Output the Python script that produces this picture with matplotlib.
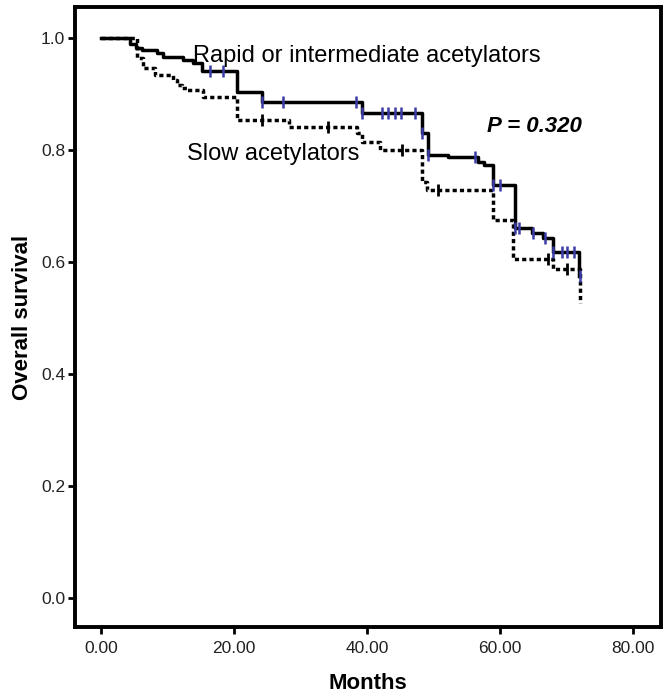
import numpy as np
from matplotlib import pyplot as plt

plt.rcParams['font.family'] = ['Liberation Sans', 'DejaVu Sans']

# Kaplan-Meier step points (months, survival)
rapid_t = [0, 4.4, 5.2, 6.2, 8.4, 9.3, 12.3, 13.8, 15.2, 20.4, 24.2, 39.2,
           48.3, 49.2, 52.2, 56.7, 57.6, 59.0, 62.3, 64.8, 66.5, 68.0, 71.9]
rapid_s = [1.0, 0.989, 0.982, 0.978, 0.973, 0.966, 0.961, 0.955, 0.940, 0.904,
           0.886, 0.866, 0.830, 0.791, 0.787, 0.779, 0.773, 0.737, 0.660, 0.652,
           0.643, 0.618, 0.575]
rapid_cens = [16.4, 18.3, 24.2, 27.4, 38.3, 39.2, 42.3, 43.2, 44.2, 45.1, 47.2,
              48.3, 49.2, 56.2, 59.0, 60.0, 62.3, 62.9, 64.9, 66.8, 68.0, 69.3,
              70.1, 71.1, 72.0]

slow_t = [0, 5.4, 6.3, 8.1, 10.8, 11.5, 12.2, 12.9, 15.3, 20.4, 28.3, 38.5,
          39.2, 42.0, 48.3, 49.0, 59.0, 62.0, 68.0, 72.0]
slow_s = [1.0, 0.964, 0.946, 0.934, 0.925, 0.916, 0.910, 0.907, 0.895, 0.854,
          0.841, 0.830, 0.814, 0.800, 0.743, 0.729, 0.675, 0.605, 0.587, 0.527]
slow_cens = [24.2, 34.1, 45.3, 50.7, 67.2, 70.1]

x_ticks = [0, 20, 40, 60, 80]
y_ticks = [0.0, 0.2, 0.4, 0.6, 0.8, 1.0]


def surv_at(times, surv, when):
    idx = np.searchsorted(times, when, side='right') - 1
    return np.asarray(surv)[idx]


fig = plt.figure(figsize=(6.66, 6.97), dpi=100)
ax = fig.add_axes([0.1126, 0.1004, 0.88, 0.8896])

ax.step(rapid_t, rapid_s, where='post', color='black', lw=2.5)
ax.step(slow_t, slow_s, where='post', color='black', lw=2.5,
        linestyle=(0, (1.2, 0.9)))
ax.plot(rapid_cens, surv_at(rapid_t, rapid_s, rapid_cens), ls='none',
        marker='|', ms=8, mew=1.8, color='#3c3ca8')
ax.plot(slow_cens, surv_at(slow_t, slow_s, slow_cens), ls='none',
        marker='|', ms=8, mew=2, color='black')

ax.text(13.8, 0.957, 'Rapid or intermediate acetylators', fontsize=17,
        va='baseline', ha='left')
ax.text(12.9, 0.782, 'Slow acetylators', fontsize=17, va='baseline', ha='left')
ax.text(58.0, 0.832, 'P = 0.320', fontsize=16, fontweight='bold',
        fontstyle='italic', va='baseline', ha='left')

ax.set_xlim(-3.9, 84.2)
ax.set_ylim(-0.052, 1.055)
ax.set_xticks(x_ticks)
ax.set_xticklabels([f'{v:.2f}' for v in x_ticks])
ax.set_yticks(y_ticks)
ax.set_yticklabels([f'{v:.1f}' for v in y_ticks])
ax.tick_params(labelsize=12.5, labelcolor='#222222', width=2, length=5)
ax.tick_params(axis='x', pad=5)
ax.tick_params(axis='y', pad=2)
for sp in ax.spines.values():
    sp.set_linewidth(2.8)

ax.set_xlabel('Months', fontsize=16, fontweight='bold', labelpad=12)
ax.set_ylabel('Overall survival', fontsize=16, fontweight='bold', labelpad=6)

plt.savefig('out.png', dpi=100)
